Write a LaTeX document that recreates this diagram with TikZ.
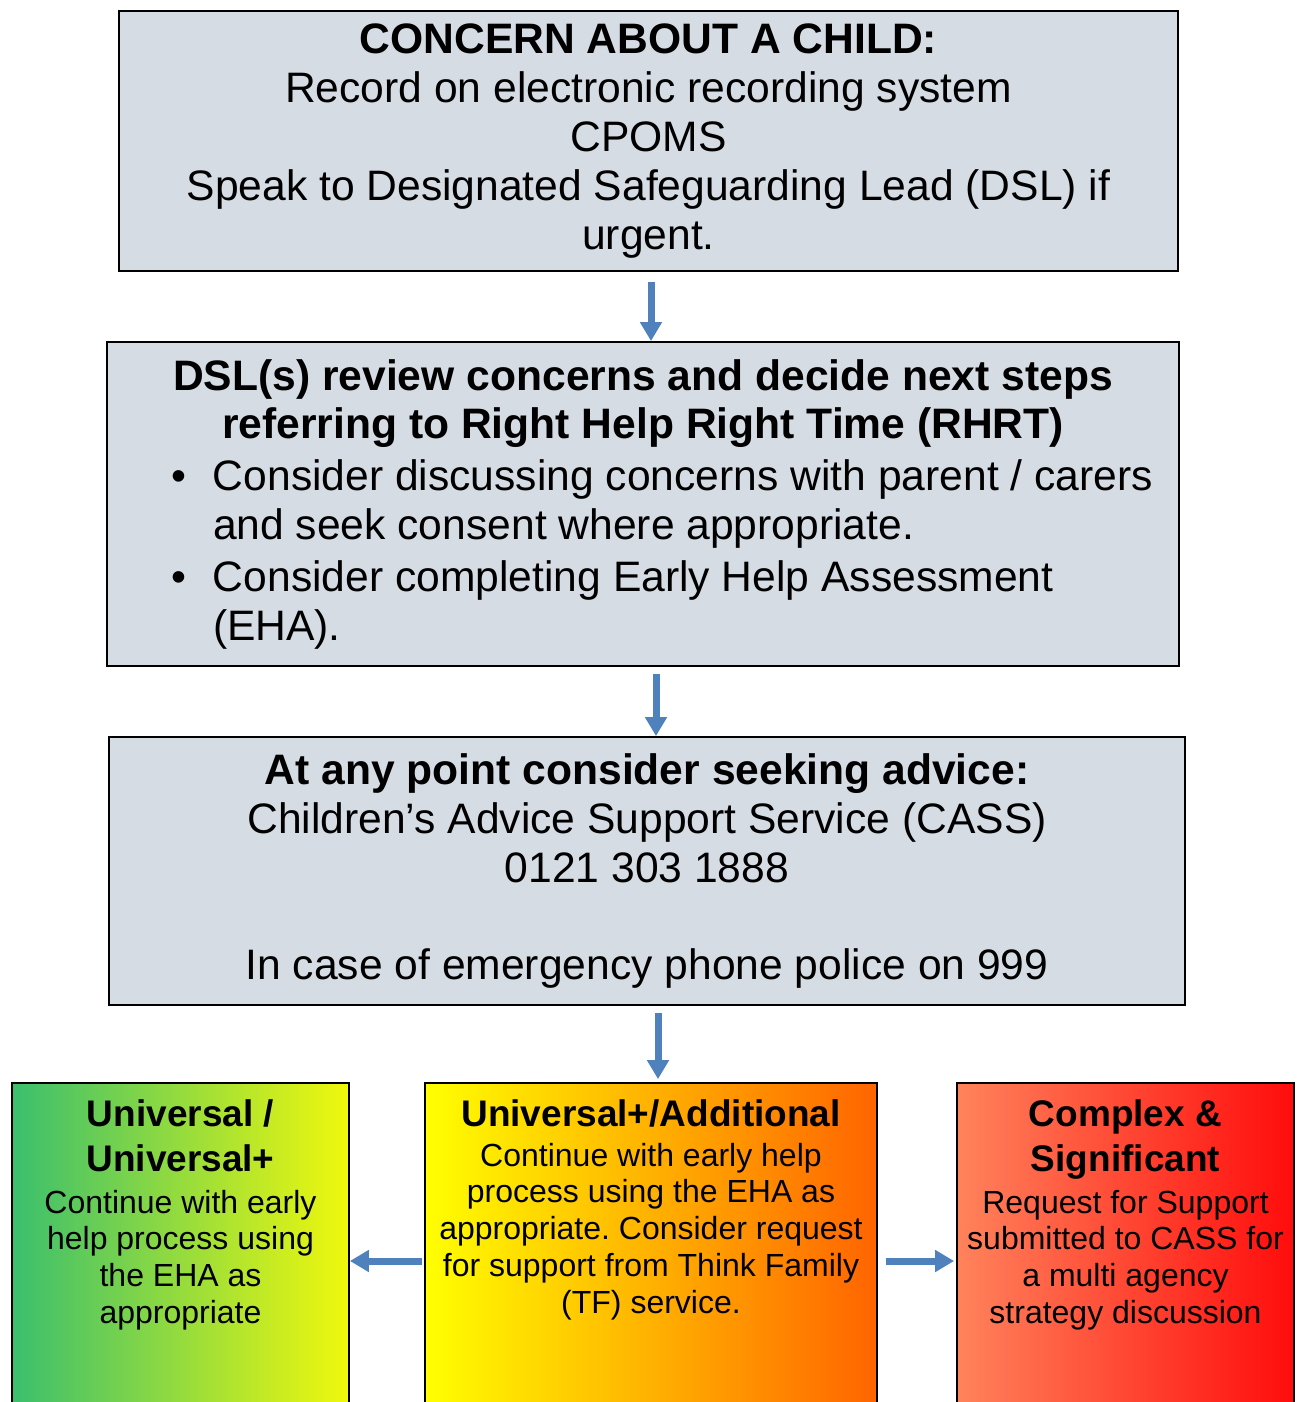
\documentclass[tikz,border=0pt]{standalone}
\usepackage{fontspec}
\setmainfont{Liberation Sans}
\usepackage{tikz}
\usetikzlibrary{arrows.meta,calc}
\usepackage{color}
\frenchspacing

\definecolor{boxgrey}{RGB}{214,220,228}
\definecolor{arrowblue}{RGB}{79,129,189}
\definecolor{greenleft}{RGB}{58,191,110}
\definecolor{greenright}{RGB}{240,248,12}
\definecolor{yellowleft}{RGB}{255,255,0}
\definecolor{yellowmid}{RGB}{255,212,0}
\definecolor{orangeright}{RGB}{255,100,0}
\definecolor{salmonleft}{RGB}{255,131,92}
\definecolor{salmonmid}{RGB}{255,108,76}
\definecolor{redright}{RGB}{255,12,12}

\newcommand{\bigtext}{\fontsize{21.3}{24.4}\selectfont}
\newcommand{\headtext}{\fontsize{18.5}{22.5}\selectfont\bfseries}
\newcommand{\smalltext}{\fontsize{16}{18.4}\selectfont}
\newcommand{\boxlabel}[4]{\begin{minipage}{#1}\centering{\headtext #2\par}\vspace{#4}{\smalltext #3\par}\end{minipage}}
\newcommand{\bulletitem}[1]{\par\hangindent=45pt\hangafter=1\noindent\makebox[45pt][l]{\hspace{24pt}\textbullet}#1\par}

\tikzset{
  greybox/.style={draw=black, line width=0.9pt, fill=boxgrey, inner sep=0pt},
  shadedbox/.style={draw=black, line width=0.9pt, inner sep=0pt, minimum width=168.5pt, minimum height=178pt},
  flowarrow/.style={draw=arrowblue, line width=3.5pt, -{Triangle[width=10.5pt,length=9.5pt]}},
  boxtext/.style={anchor=north, inner sep=0pt, yshift=-8.5pt}
}

\begin{document}
\begin{tikzpicture}[x=0.5pt,y=-0.5pt]
\useasboundingbox (0,0) rectangle (1300,1402);

%Grey boxes
\node (concern) at (648.5,141) [greybox, align=center, font=\bigtext, minimum width=529.5pt, minimum height=130pt]
{\textbf{CONCERN ABOUT A CHILD:}\\ Record on electronic recording system\\ CPOMS\\
 Speak to Designated Safeguarding Lead (DSL) if\\ urgent.};

\node (review) at (643,504) [greybox, minimum width=536pt, minimum height=162pt]
{\bigtext\begin{minipage}{520pt}
{\centering\bfseries DSL(s) review concerns and decide next steps\\ referring to Right Help Right Time (RHRT)\par}
\setlength{\parskip}{1.5pt}
\bulletitem{Consider discussing concerns with parent / carers\\ and seek consent where appropriate.}
\bulletitem{Consider completing Early Help Assessment\\ (EHA).}
\end{minipage}};

\node (advice) at (647,871) [greybox, align=center, font=\bigtext, minimum width=538pt, minimum height=134pt]
{\textbf{At any point consider seeking advice:}\\ Children’s Advice Support Service (CASS)\\ 0121 303 1888\\[24.4pt]
 In case of emergency phone police on 999};

%Coloured boxes
\node (universal) at (180.5,1261) [shadedbox, left color=greenleft, right color=greenright,
  label={[boxtext]north:{\boxlabel{160pt}{Universal /\\ Universal+}{Continue with early\\ help process using\\ the EHA as\\ appropriate}{2.5pt}}}] {};
\node (additional) at (651,1261) [shadedbox, minimum width=226pt, left color=yellowleft, middle color=yellowmid, right color=orangeright,
  label={[boxtext]north:{\boxlabel{220pt}{Universal+/Additional}{Continue with early help\\ process using the EHA as\\ appropriate. Consider request\\ for support from Think Family\\ (TF) service.}{1.5pt}}}] {};
\node (complex) at (1125.5,1261) [shadedbox, left color=salmonleft, middle color=salmonmid, right color=redright,
  label={[boxtext]north:{\boxlabel{165pt}{Complex \&\\ Significant}{Request for Support\\ submitted to CASS for\\ a multi agency\\ strategy discussion}{2.5pt}}}] {};

%Arrows
\draw[flowarrow] ([xshift=1.25pt,yshift=-5pt]concern.south) -- ([xshift=1.25pt]concern.south |- review.north);
\draw[flowarrow] ([xshift=6.5pt,yshift=-3.5pt]review.south) -- ([xshift=6.5pt]review.south |- advice.north);
\draw[flowarrow] ([xshift=5.5pt,yshift=-3.5pt]advice.south) -- ([xshift=5.5pt,yshift=1.5pt]advice.south |- additional.north);
\draw[flowarrow] ([xshift=-1pt]additional.west) -- (universal.east);
\draw[flowarrow] ([xshift=4pt]additional.east) -- ([xshift=-1pt]complex.west);

\end{tikzpicture}
\end{document}
